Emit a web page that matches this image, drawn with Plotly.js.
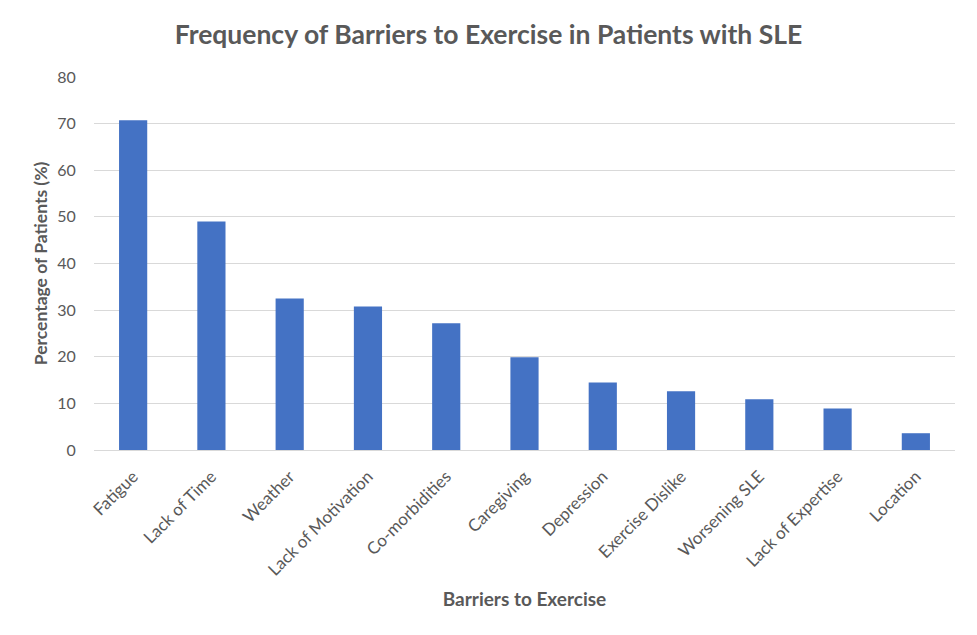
<!DOCTYPE html>
<html>
<head>
<meta charset="utf-8">
<script src="https://cdn.plot.ly/plotly-3.0.1.min.js"></script>
<style>html,body{margin:0;padding:0;background:#fff;}#chart{width:977px;height:635px;}</style>
</head>
<body>
<div id="chart"></div>
<script>
const categories = ["Fatigue", "Lack of Time", "Weather", "Lack of Motivation", "Co-morbidities", "Caregiving", "Depression", "Exercise Dislike", "Worsening SLE", "Lack of Expertise", "Location"];
const percentages = [70.7, 49.0, 32.5, 30.8, 27.2, 19.9, 14.5, 12.6, 10.9, 8.9, 3.6];
const yTicks = [0, 10, 20, 30, 40, 50, 60, 70, 80];

const FONT = "Lato, 'Open Sans', 'Liberation Sans', sans-serif";
const GREY = "#595959";

const trace = {
  type: "bar",
  x: categories,
  y: percentages,
  marker: {color: "#4472C4"},
  hoverinfo: "x+y"
};

const layout = {
  width: 977,
  height: 635,
  margin: {l: 94, r: 22, t: 77, b: 185},
  paper_bgcolor: "#ffffff",
  plot_bgcolor: "#ffffff",
  bargap: 0.64,
  showlegend: false,
  font: {family: FONT, color: GREY, size: 16},
  title: {
    text: "Frequency of Barriers to Exercise in Patients with SLE",
    font: {family: FONT, size: 26.5, color: GREY, weight: "bold"},
    x: 0.5, xanchor: "center", y: 0.945, yanchor: "middle"
  },
  xaxis: {
    type: "category",
    tickangle: -45,
    showgrid: false,
    showline: false,
    zeroline: false,
    ticks: "outside",
    ticklen: 9,
    tickcolor: "rgba(0,0,0,0)",
    tickfont: {family: FONT, size: 17, color: GREY},
    title: {text: "Barriers to Exercise", font: {family: FONT, size: 19, color: GREY, weight: "bold"}, standoff: 14}
  },
  yaxis: {
    range: [0, 80],
    tickvals: yTicks,
    showgrid: true,
    gridcolor: "#d9d9d9",
    gridwidth: 1,
    zeroline: true,
    zerolinecolor: "#d9d9d9",
    zerolinewidth: 1,
    showline: false,
    ticks: "outside",
    ticklen: 14,
    tickcolor: "rgba(0,0,0,0)",
    tickfont: {family: FONT, size: 16, color: GREY},
    title: {text: "Percentage of Patients (%)", font: {family: FONT, size: 17.5, color: GREY, weight: "bold"}, standoff: 5}
  }
};

Plotly.newPlot("chart", [trace], layout, {displayModeBar: false, staticPlot: true});
</script>
</body>
</html>
